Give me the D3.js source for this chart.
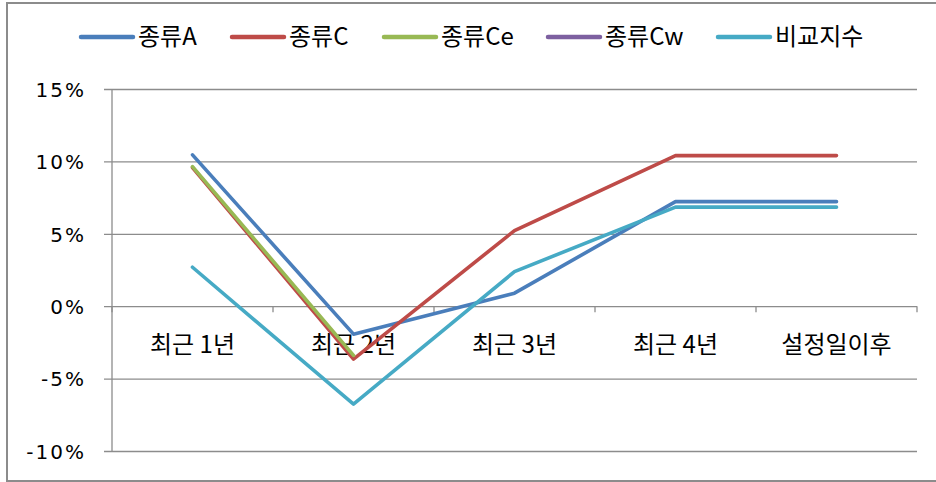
<!DOCTYPE html>
<html><head><meta charset="utf-8">
<script src="https://cdn.jsdelivr.net/npm/d3@7/dist/d3.min.js"></script>
<style>
html,body{margin:0;padding:0;background:#fff;}
svg{display:block;}
</style></head>
<body>
<script>
const categories = ['최근 1년','최근 2년','최근 3년','최근 4년','설정일이후'];
const seriesNames = ['종류A','종류C','종류Ce','종류Cw','비교지수'];
const seriesA = [10.45, -1.93, 0.90, 7.22, 7.22];
const seriesC = [9.58, -3.66, 5.22, 10.40, 10.40];
const seriesCe = [9.64, -3.40, null, null, null];
const seriesCw = [null, null, null, null, null];
const seriesBench = [2.69, -6.77, 2.39, 6.84, 6.84];
const yTicks = [-10, -5, 0, 5, 10, 15];
const colors = ['#4A7EBB','#BE4B48','#98B954','#7D60A0','#46AAC5'];

const W = 936, H = 482;
const pLeft = 112, pRight = 917, pTop = 89, pBottom = 451;
const svg = d3.select('body').append('svg').attr('width', W).attr('height', H);
svg.append('rect').attr('width', W).attr('height', H).attr('fill', '#fff');
// outer border
svg.append('rect').attr('x', 7).attr('y', 3).attr('width', 1000).attr('height', 478)
  .attr('fill', 'none').attr('stroke', '#8c8c8c').attr('stroke-width', 2);

const x = d3.scaleBand().domain(categories).range([pLeft, pRight]).padding(0);
const y = d3.scaleLinear().domain([-10, 15]).range([pBottom, pTop]);

const fontK = '"Noto Sans CJK KR", "Noto Sans", sans-serif';

// y axis with gridlines
const yAxis = d3.axisLeft(y).tickValues(yTicks).tickSize(-(pRight - pLeft)).tickFormat(d => d + '%');
const gy = svg.append('g').attr('transform', `translate(${pLeft},0)`).call(yAxis);
gy.select('.domain').remove();
gy.selectAll('.tick line').attr('stroke', '#8c8c8c').attr('stroke-width', 1.3).attr('x1', -8);
gy.selectAll('.tick text').attr('fill', '#000').attr('font-family', '"DejaVu Sans", sans-serif')
  .attr('font-size', 20).attr('letter-spacing', 2).attr('x', -26).attr('dy', '0.36em');
svg.append('line').attr('x1', pLeft).attr('x2', pLeft).attr('y1', pTop).attr('y2', pBottom)
  .attr('stroke', '#8c8c8c').attr('stroke-width', 1.3);

// x axis at zero with boundary ticks
const boundaries = d3.range(categories.length + 1).map(i => pLeft + i * x.bandwidth());
svg.append('g').selectAll('line').data(boundaries).join('line')
  .attr('x1', d => d).attr('x2', d => d).attr('y1', y(0)).attr('y2', y(0) + 6)
  .attr('stroke', '#8c8c8c').attr('stroke-width', 1.3);
svg.append('g').selectAll('text').data(categories).join('text')
  .attr('x', d => x(d) + x.bandwidth() / 2).attr('y', y(0) + 47)
  .attr('text-anchor', 'middle').attr('font-family', fontK).attr('font-size', 24)
  .attr('fill', '#000').text(d => d);

// lines
const allSeries = [seriesA, seriesC, seriesCe, seriesCw, seriesBench];
const line = d3.line()
  .defined(d => d != null)
  .x((d, i) => x(categories[i]) + x.bandwidth() / 2)
  .y(d => y(d));
allSeries.forEach((s, k) => {
  svg.append('path').datum(s).attr('d', line).attr('fill', 'none')
    .attr('stroke', colors[k]).attr('stroke-width', 3.6).attr('stroke-linejoin', 'round')
    .attr('stroke-linecap', 'round');
});

// legend
const legendX = [81, 232, 384, 548, 718];
const lg = svg.append('g');
seriesNames.forEach((n, k) => {
  lg.append('line').attr('x1', legendX[k]).attr('x2', legendX[k] + 52).attr('y1', 37).attr('y2', 37)
    .attr('stroke', colors[k]).attr('stroke-width', 4.5).attr('stroke-linecap', 'round');
  lg.append('text').attr('x', legendX[k] + 57).attr('y', 45).attr('font-family', fontK)
    .attr('font-size', 24).attr('fill', '#000').text(n);
});
</script>
</body></html>
